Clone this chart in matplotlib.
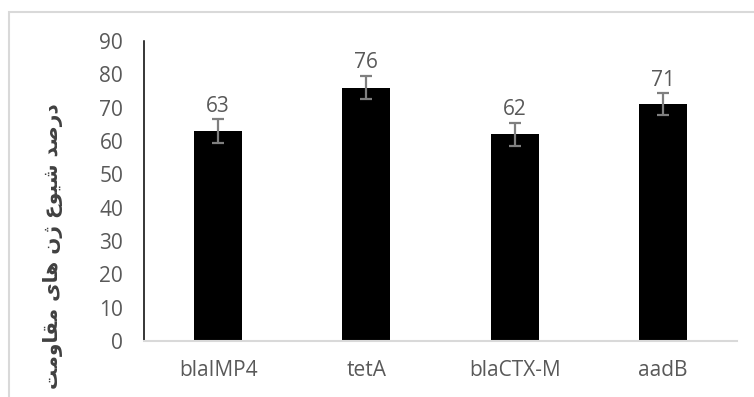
import matplotlib
matplotlib.use("Agg")
import matplotlib.pyplot as plt
from matplotlib.patches import Rectangle
from matplotlib.transforms import Affine2D

genes = ['blaIMP4', 'tetA', 'blaCTX-M', 'aadB']
prevalence = [63, 76, 62, 71]
errors = [3.5, 3.5, 3.4, 3.3]
y_ticks = [0, 10, 20, 30, 40, 50, 60, 70, 80, 90]
y_label = 'درصد شیوع ژن های مقاومت'

# presentation forms: isolated, final, initial, medial
FORMS = {
    'ا': ('\uFE8D', '\uFE8E', None, None),
    'ت': ('\uFE95', '\uFE96', '\uFE97', '\uFE98'),
    'د': ('\uFEA9', '\uFEAA', None, None),
    'ر': ('\uFEAD', '\uFEAE', None, None),
    'ژ': ('\uFB8A', '\uFB8B', None, None),
    'ش': ('\uFEB5', '\uFEB6', '\uFEB7', '\uFEB8'),
    'ص': ('\uFEB9', '\uFEBA', '\uFEBB', '\uFEBC'),
    'ع': ('\uFEC9', '\uFECA', '\uFECB', '\uFECC'),
    'ق': ('\uFED5', '\uFED6', '\uFED7', '\uFED8'),
    'م': ('\uFEE1', '\uFEE2', '\uFEE3', '\uFEE4'),
    'ن': ('\uFEE5', '\uFEE6', '\uFEE7', '\uFEE8'),
    'ه': ('\uFEE9', '\uFEEA', '\uFEEB', '\uFEEC'),
    'و': ('\uFEED', '\uFEEE', None, None),
    'ی': ('\uFBFC', '\uFBFD', '\uFBFE', '\uFBFF'),
}


def shape_persian(text):
    out = []
    for i, ch in enumerate(text):
        if ch not in FORMS:
            out.append(ch)
            continue
        prev = text[i - 1] if i > 0 else ''
        nxt = text[i + 1] if i + 1 < len(text) else ''
        join_prev = prev in FORMS and FORMS[prev][2] is not None
        join_next = nxt in FORMS and FORMS[ch][2] is not None
        iso, fin, ini, med = FORMS[ch]
        if join_prev and join_next:
            out.append(med)
        elif join_prev:
            out.append(fin)
        elif join_next:
            out.append(ini)
        else:
            out.append(iso)
    return ''.join(reversed(out))


plt.rcParams['font.family'] = ['Open Sans', 'DejaVu Sans']

W, H = 754, 397
fig = plt.figure(figsize=(W / 100, H / 100), dpi=100)
ax = fig.add_axes([144 / W, 1 - 341 / H, 593 / W, 300 / H])

x = list(range(len(genes)))
ax.bar(x, prevalence, width=0.325, color='black', zorder=2)
ax.errorbar(x, prevalence, yerr=errors, fmt='none', ecolor='#7f7f7f',
            elinewidth=1.6, capsize=4.5, capthick=1.6, zorder=3)

for xi, v, e in zip(x, prevalence, errors):
    ax.annotate(str(v), (xi, v + e), xytext=(0, 2), textcoords='offset points',
                ha='center', va='bottom', fontsize=15, color='#595959')

ax.set_xlim(-0.5, 3.5)
ax.set_ylim(0, 90)
ax.set_yticks(y_ticks)
ax.set_xticks(x)
ax.set_xticklabels(genes)
ax.tick_params(axis='both', length=0, labelsize=15, labelcolor='#595959')
ax.tick_params(axis='y', pad=15)
ax.tick_params(axis='x', pad=14)

for side in ['top', 'right']:
    ax.spines[side].set_visible(False)
ax.spines['left'].set_color('black')
ax.spines['left'].set_linewidth(1.1)
ax.spines['bottom'].set_color('#d9d9d9')
ax.spines['bottom'].set_linewidth(1.5)

fig.text(53 / W, 1 - 246 / H, shape_persian(y_label), rotation=90,
         ha='center', va='center', fontsize=14.5, fontweight='bold',
         color='#404040', family='DejaVu Sans')

# chart area border, clipped at right and bottom like the source
px = Affine2D().scale(1 / W, 1 / H) + fig.transFigure
fig.patches.append(Rectangle((9, -20), 800, H - 12 + 20, transform=px,
                             fill=False, edgecolor='#d9d9d9', linewidth=1.5))

fig.savefig('out.png', dpi=100)
